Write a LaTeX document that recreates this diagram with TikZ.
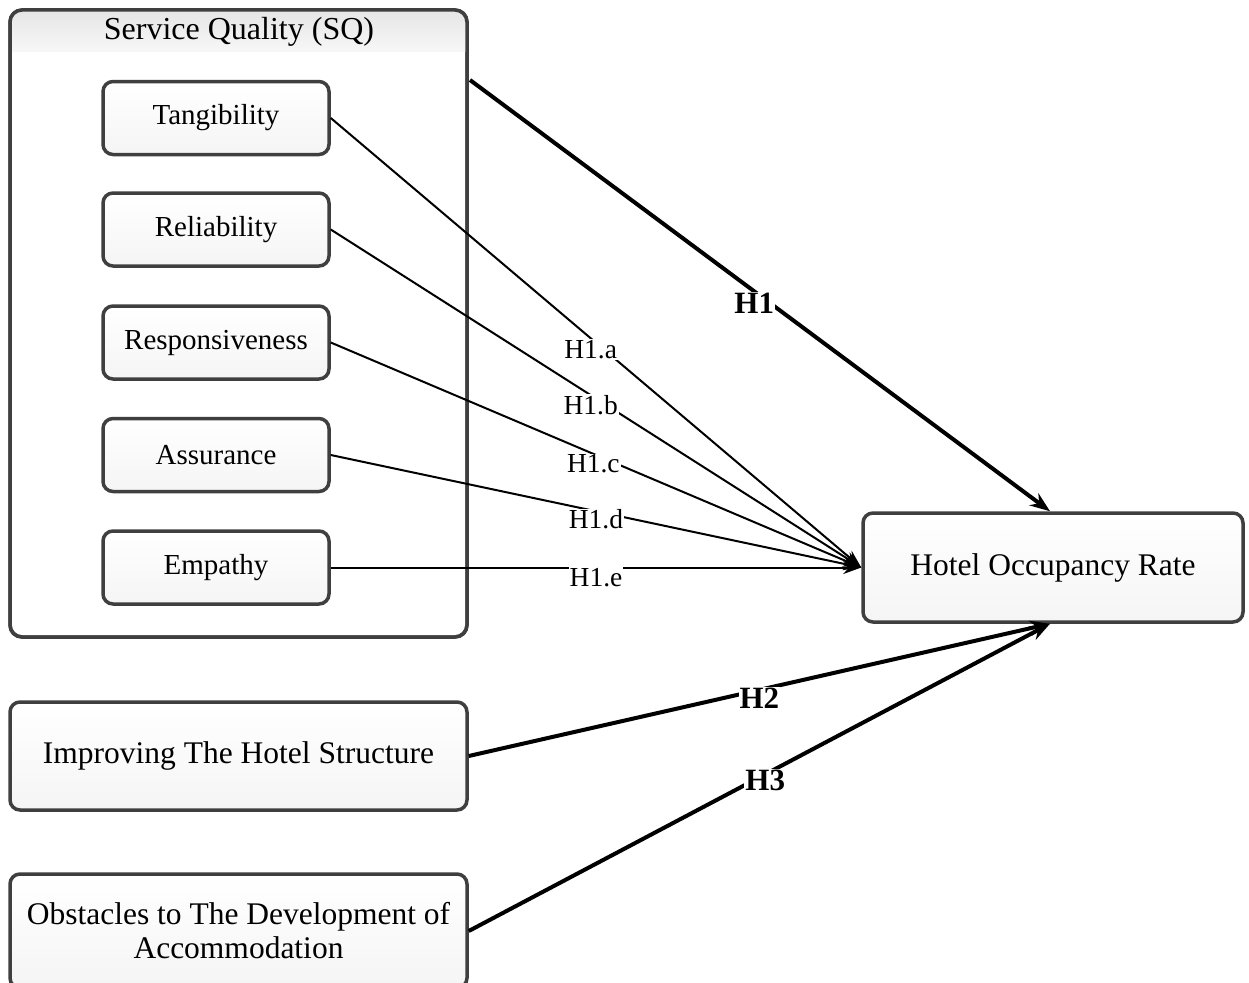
\documentclass[tikz,border=0pt]{standalone}
\usepackage{fontspec}
\setmainfont{Liberation Serif}
\usetikzlibrary{arrows.meta}
\definecolor{boxgray}{HTML}{3F3F3F}
\begin{document}
\begin{tikzpicture}[x=1pt,y=-1pt,
  box/.style={draw=boxgray, line width=3.5pt, rounded corners=10pt, top color=white, bottom color=gray!8, align=center, text=black, font=\fontsize{31.5}{34}\selectfont},
  inner/.style={box, minimum width=226pt, minimum height=73pt, font=\fontsize{29}{32}\selectfont},
  link/.style={line width=2pt, -{Stealth[length=18pt,width=13pt]}},
  biglink/.style={line width=4pt, -{Stealth[length=20pt,width=15pt]}},
  lab/.style={fill=white, inner sep=1pt, font=\fontsize{27.5}{29}\selectfont},
  blab/.style={fill=white, inner sep=1pt, font=\bfseries\fontsize{31}{33}\selectfont}]
\useasboundingbox (0,0) rectangle (1249,982);
\clip (0,0) rectangle (1249,982);
% Service quality container
\node[draw=boxgray, line width=3.5pt, rounded corners=12pt, minimum width=457pt, minimum height=627pt, fill=white] (sq) at (238.5,323.5) {};
\begin{scope}
\clip[rounded corners=12pt] (10,10) rectangle (467,637);
\fill[top color=gray!20, bottom color=gray!6] (10,10) rectangle (467,52);
\end{scope}
\draw[boxgray, line width=3.5pt, rounded corners=12pt] (10,10) rectangle (467,637);
\node[font=\fontsize{32}{34}\selectfont] (sqt) at (239,32) {Service Quality (SQ)};
% dimensions
\node[inner] (tan) at (216,118) {Tangibility};
\node[inner] (rel) at (216,229.5) {Reliability};
\node[inner] (res) at (216,342.5) {Responsiveness};
\node[inner] (ass) at (216,455) {Assurance};
\node[inner] (emp) at (216,567.5) {Empathy};
% outcome
\node[box, minimum width=380pt, minimum height=109pt] (hor) at (1053,567.5) {Hotel Occupancy Rate};
\node[box, minimum width=457pt, minimum height=108pt] (imp) at (238.5,756) {Improving The Hotel Structure};
\node[box, minimum width=457pt, minimum height=114pt] (obs) at (238.5,931) {Obstacles to The Development of\\Accommodation};
% connectors
\coordinate (h1s) at (470,80);
\draw[biglink] (h1s) -- node[blab, pos=0.49, yshift=-12pt] {H1} ([xshift=-3pt]hor.north);
\draw[link] (tan.east) -- node[lab, pos=0.49, yshift=-11pt] {H1.a} (hor.west);
\draw[link] (rel.east) -- node[lab, pos=0.49, yshift=-10pt] {H1.b} (hor.west);
\draw[link] (res.east) -- node[lab, pos=0.495, yshift=-10pt] {H1.c} (hor.west);
\draw[link] (ass.east) -- node[lab, pos=0.5, yshift=-8pt] {H1.d} (hor.west);
\draw[link] (emp.east) -- node[lab, pos=0.5, yshift=-10pt] {H1.e} (hor.west);
\draw[biglink] (imp.east) -- node[blab, pos=0.5, yshift=-8pt] {H2} ([xshift=-3pt]hor.south);
\draw[biglink] (obs.east) -- node[blab, pos=0.51, yshift=-6pt] {H3} ([xshift=-3pt]hor.south);
\end{tikzpicture}
\end{document}
